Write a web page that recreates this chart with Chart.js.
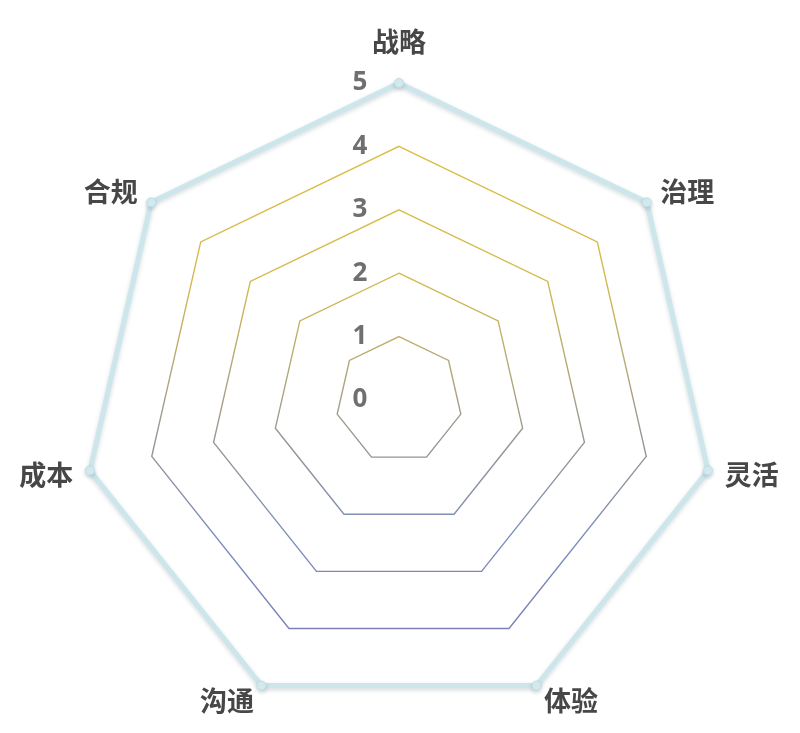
<!DOCTYPE html>
<html>
<head>
<meta charset="utf-8">
<script src="https://cdn.jsdelivr.net/npm/chart.js@4"></script>
<style>
  html, body { margin: 0; padding: 0; background: #ffffff; overflow: hidden; }
  /* a bit taller than the window: the radar fit leaves its spare room below the chart */
  #wrap { width: 800px; height: 745px; position: relative; }
</style>
</head>
<body>
<div id="wrap"><canvas id="radar"></canvas></div>
<script>
// ---- data ----
const categories = ['战略', '治理', '灵活', '体验', '沟通', '成本', '合规'];
const scores = [5, 5, 5, 5, 5, 5, 5];
const tickValues = [0, 1, 2, 3, 4, 5];

// ---- styles ----
const lineColor = '#cde6ec';
const labelColor = '#474747';
const tickColor = '#6f6f6f';
const tickGap = '\u2003\u2003\u2003';   // pushes tick text left of the axis

// one gradient over all rings: gold at the top, grey in the middle, slate blue at the bottom
function ringColor(ctx) {
    const scale = ctx.scale;
    if (!scale || ctx.index === 0 || ctx.tick.value >= tickValues[tickValues.length - 1]) return 'rgba(0,0,0,0)';
    const r = scale.getDistanceFromCenterForValue(tickValues[tickValues.length - 2]);
    const g = ctx.chart.ctx.createLinearGradient(0, scale.yCenter - r, 0, scale.yCenter + r * 0.9);
    g.addColorStop(0, '#dcbc3e');
    g.addColorStop(0.28, '#d4b84c');
    g.addColorStop(0.45, '#b4aa74');
    g.addColorStop(0.62, '#969595');
    g.addColorStop(0.82, '#7a8cc0');
    g.addColorStop(1, '#7e80b4');
    return g;
}

// soft drop shadow under the outer line
const shadowPlugin = {
    id: 'lineShadow',
    beforeDatasetDraw(chart) {
        const c = chart.ctx;
        c.save();
        c.shadowColor = 'rgba(60, 90, 100, 0.22)';
        c.shadowBlur = 4;
        c.shadowOffsetY = 2;
    },
    afterDatasetDraw(chart) {
        chart.ctx.restore();
    }
};

new Chart(document.getElementById('radar'), {
    type: 'radar',
    data: {
        labels: categories,
        datasets: [{
            data: scores,
            borderColor: lineColor,
            borderWidth: 5,
            backgroundColor: 'rgba(0,0,0,0)',
            fill: false,
            pointRadius: 4.5,
            pointBackgroundColor: '#d9eef2',
            pointBorderColor: '#bcdfe7',
            pointBorderWidth: 1
        }]
    },
    options: {
        responsive: true,
        maintainAspectRatio: false,
        animation: false,
        layout: { padding: { top: 28, bottom: 0, left: 0, right: 0 } },
        plugins: {
            legend: { display: false },
            tooltip: { enabled: false }
        },
        scales: {
            r: {
                min: -1e-9,
                max: tickValues[tickValues.length - 1],
                bounds: 'data',
                angleLines: { display: false },
                grid: { color: ringColor, lineWidth: 1.4 },
                pointLabels: {
                    color: labelColor,
                    // top label sits higher above its corner than the others
                    padding: ctx => (ctx.index === 0 ? 28 : 4),
                    // zero line height keeps each label centred on its anchor
                    font: { family: '"Noto Sans CJK SC", "Noto Sans"', size: 27, weight: 'bold', lineHeight: 0 }
                },
                ticks: {
                    stepSize: 1,
                    precision: 0,
                    showLabelBackdrop: false,
                    backdropPadding: 0,
                    color: tickColor,
                    font: { family: '"Noto Sans"', size: 26, weight: 'bold' },
                    callback: v => `${Math.round(v)}` + tickGap
                }
            }
        }
    },
    plugins: [shadowPlugin]
});
</script>
</body>
</html>
